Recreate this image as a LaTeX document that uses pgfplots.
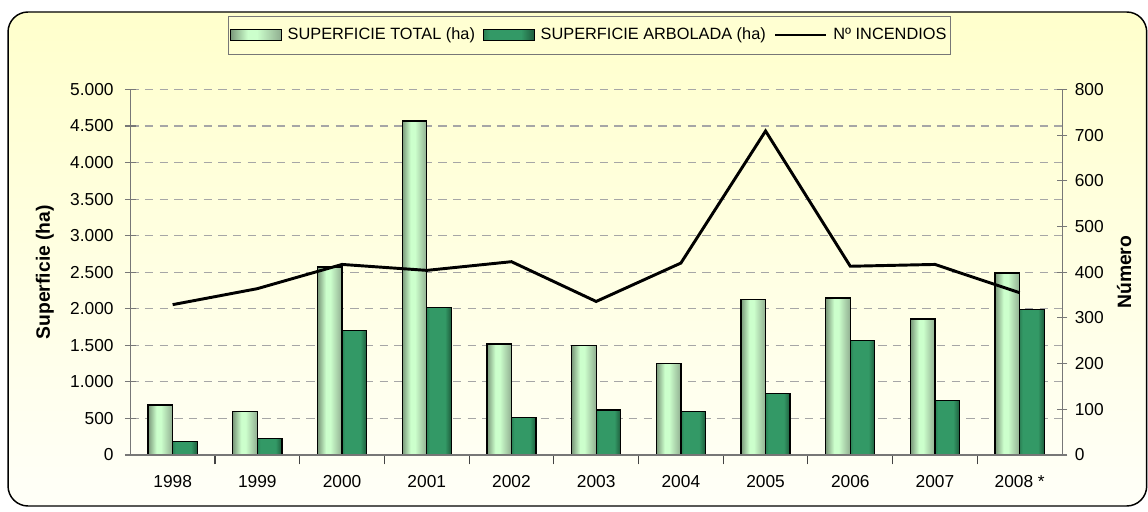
\documentclass[border=0pt]{standalone}
\usepackage{pgfplots}
\pgfplotsset{compat=1.18}
\usepackage{fontspec}
\setmainfont{Liberation Sans}
\definecolor{lb1}{HTML}{7A987A}
\definecolor{lb2}{HTML}{CCFFCC}
\definecolor{lb3}{HTML}{90AE90}
\definecolor{db1}{HTML}{2B8155}
\definecolor{db2}{HTML}{339966}
\definecolor{db3}{HTML}{1E5C3C}
\definecolor{bgtop}{HTML}{FFFFCC}
\definecolor{bgbot}{HTML}{FFFFF8}
\definecolor{axisgray}{HTML}{777777}
\definecolor{tickgray}{HTML}{444444}
\definecolor{gridgray}{HTML}{A6A6A6}
\definecolor{legendfill}{HTML}{FFFFD2}
\pgfdeclarehorizontalshading{lightbar}{100bp}{color(0bp)=(lb1); color(25bp)=(lb1); color(42bp)=(lb2); color(51bp)=(lb2); color(75bp)=(lb3); color(100bp)=(lb3)}
\pgfdeclarehorizontalshading{darkbar}{100bp}{color(0bp)=(db1); color(25bp)=(db1); color(31bp)=(db2); color(62bp)=(db2); color(75bp)=(db3); color(100bp)=(db3)}
\pgfplotsset{
  totbar/.style={ybar, bar width=18.4pt, bar shift=-9.2pt, draw=black, line width=1pt, shade, shading=lightbar, forget plot},
  arbbar/.style={ybar, bar width=18.4pt, bar shift=9.2pt, draw=black, line width=1pt, shade, shading=darkbar, forget plot},
}
\begin{document}
\begin{tikzpicture}[x=1pt,y=1pt]
\useasboundingbox (-97.725,-42) rectangle (763.275,341.25);
\shadedraw[top color=bgtop, bottom color=bgbot, draw=black, line width=1.1pt, rounded corners=15pt] (-91.7,-38.25) rectangle (762.3,332.25);
\begin{axis}[
  at={(0pt,0pt)}, anchor=south west,
  scale only axis, width=698.8pt, height=274.2pt,
  xmin=-0.5, xmax=10.5, ymin=0, ymax=5000,
  axis x line*=bottom, axis y line*=left,
  axis line style={draw=axisgray, line width=0.8pt, -},
  xtick={0,...,10},
  xticklabels={1998,1999,2000,2001,2002,2003,2004,2005,2006,2007,2008 *},
  major x tick style={draw=none},
  ytick={0,500,...,5000},
  major tick length=8pt, tick align=center,
  major y tick style={draw=axisgray, line width=0.8pt},
  ymajorgrids,
  grid style={draw=gridgray, dash pattern=on 6.25pt off 4.75pt, line width=0.8pt},
  /pgf/number format/.cd, fixed, precision=0, 1000 sep={.}, assume math mode=true,
  /pgfplots/.cd,
  tick label style={font=\fontsize{13}{15}\selectfont},
  xticklabel style={anchor=base, yshift=-20.25pt},
  yticklabel style={anchor=east, xshift=-5pt},
  ylabel={Superficie (ha)},
  y label style={font=\bfseries\fontsize{14.5}{16}\selectfont, at={(axis description cs:-0.0916,0.5)}, anchor=center},
  legend columns=3,
  legend style={at={(0.4929,1.1488)}, anchor=center, draw=axisgray, line width=0.6pt, fill=legendfill,
    font=\fontsize{12.25}{14}\selectfont, inner xsep=1pt, inner ysep=7pt,
    /tikz/every odd column/.append style={column sep=2.5pt},
    /tikz/every even column/.append style={column sep=4pt}},
]
% SUPERFICIE TOTAL (ha)
\addplot[totbar] coordinates {(0,684)};
\addplot[totbar] coordinates {(1,592)};
\addplot[totbar] coordinates {(2,2573)};
\addplot[totbar] coordinates {(3,4567)};
\addplot[totbar] coordinates {(4,1517)};
\addplot[totbar] coordinates {(5,1494)};
\addplot[totbar] coordinates {(6,1248)};
\addplot[totbar] coordinates {(7,2127)};
\addplot[totbar] coordinates {(8,2149)};
\addplot[totbar] coordinates {(9,1858)};
\addplot[totbar] coordinates {(10,2491)};
% SUPERFICIE ARBOLADA (ha)
\addplot[arbbar] coordinates {(0,182)};
\addplot[arbbar] coordinates {(1,228)};
\addplot[arbbar] coordinates {(2,1699)};
\addplot[arbbar] coordinates {(3,2013)};
\addplot[arbbar] coordinates {(4,515)};
\addplot[arbbar] coordinates {(5,615)};
\addplot[arbbar] coordinates {(6,592)};
\addplot[arbbar] coordinates {(7,838)};
\addplot[arbbar] coordinates {(8,1567)};
\addplot[arbbar] coordinates {(9,747)};
\addplot[arbbar] coordinates {(10,1990)};
\addlegendimage{legend image code/.code={\draw[draw=black, line width=0.8pt, shade, shading=lightbar] (0pt,-3.9pt) rectangle (38pt,3.9pt);}}
\addlegendentry{SUPERFICIE TOTAL (ha)}
\addlegendimage{legend image code/.code={\draw[draw=black, line width=0.8pt, shade, shading=darkbar] (0pt,-3.9pt) rectangle (38pt,3.9pt);}}
\addlegendentry{SUPERFICIE ARBOLADA (ha)}
\addlegendimage{legend image code/.code={\draw[black, line width=2.2pt] (0pt,0pt) -- (38pt,0pt);}}
\addlegendentry{Nº INCENDIOS}
\end{axis}
% category separator ticks on the x axis
\begin{axis}[
  at={(0pt,0pt)}, anchor=south west,
  scale only axis, width=698.8pt, height=274.2pt,
  xmin=-0.5, xmax=10.5, ymin=0, ymax=1,
  axis x line*=bottom, axis y line=none,
  axis line style={draw=axisgray, line width=0.8pt, -},
  xtick={0.5,1.5,...,9.5}, xticklabels={},
  tick align=outside, major tick length=7pt,
  major x tick style={draw=tickgray, line width=0.8pt},
]
\end{axis}
\begin{axis}[
  at={(0pt,0pt)}, anchor=south west,
  scale only axis, width=698.8pt, height=274.2pt,
  xmin=-0.5, xmax=10.5, ymin=0, ymax=800,
  axis x line=none, axis y line*=right,
  axis line style={draw=axisgray, line width=0.8pt, -},
  ytick={0,100,...,800},
  major tick length=8pt, tick align=center,
  major y tick style={draw=axisgray, line width=0.8pt},
  /pgf/number format/assume math mode=true,
  tick label style={font=\fontsize{13}{15}\selectfont},
  yticklabel style={anchor=west, xshift=2pt},
  ylabel={Número},
  y label style={font=\bfseries\fontsize{14.5}{16}\selectfont, at={(axis description cs:1.0665,0.5)}, anchor=center},
]
\addplot[black, line width=2.2pt, mark=none]
  coordinates {(0,329) (1,364) (2,417) (3,404) (4,423) (5,336) (6,420) (7,709) (8,413) (9,417) (10,355)};
\end{axis}
\end{tikzpicture}
\end{document}
